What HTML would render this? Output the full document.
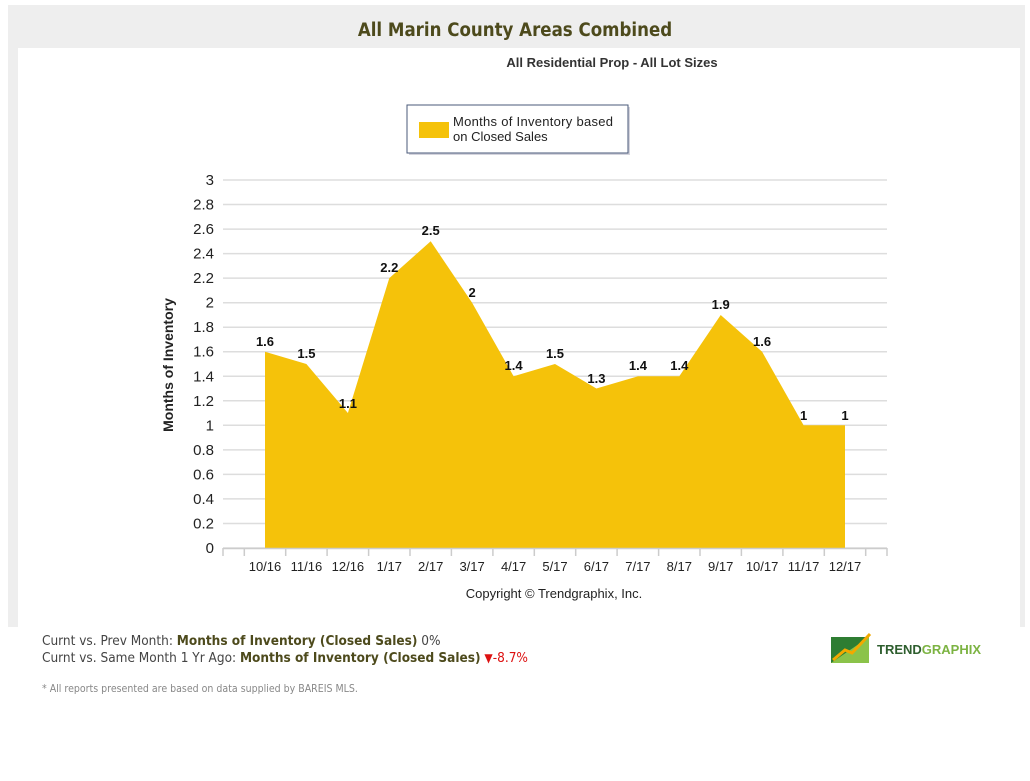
<!DOCTYPE html>
<html><head><style>
body{margin:0;width:1030px;height:781px;background:#fff;font-family:"Liberation Sans",sans-serif;position:relative;overflow:hidden}
.hdr{position:absolute;left:8px;top:5px;width:1017px;height:622px;background:#eeeeee}
.pan{position:absolute;left:18px;top:48px;width:1002px;height:579px;background:#fff}
.t{position:absolute;left:0;width:1030px;text-align:center;top:20px;font-size:18.5px;font-weight:bold;color:#4d4a1c;font-family:"DejaVu Sans Condensed","Liberation Sans",sans-serif}
.info{position:absolute;left:42px;font-size:13.5px;color:#444;font-family:"DejaVu Sans Condensed","Liberation Sans",sans-serif;white-space:nowrap}
.info b{color:#4d4a1c}
</style></head><body>
<div class="hdr"></div><div class="pan"></div>
<div class="t">All Marin County Areas Combined</div>
<svg style="position:absolute;left:0;top:0" width="1030" height="781" font-family="Liberation Sans, sans-serif">
<text x="612" y="67" text-anchor="middle" font-size="13" font-weight="bold" fill="#333">All Residential Prop - All Lot Sizes</text>
<rect x="409" y="107" width="221" height="48" fill="#aab" opacity="0.5"/>
<rect x="407" y="105" width="221" height="48" fill="#fff" stroke="#4a5a7a" stroke-width="1"/>
<rect x="419" y="122" width="30" height="16" fill="#f5c20a"/>
<text x="453" y="126" font-size="13" fill="#222" textLength="160">Months of Inventory based</text>
<text x="453" y="141" font-size="13" fill="#222">on Closed Sales</text>
<g stroke="#ddd" stroke-width="1.5">
<line x1="223" x2="887" y1="180" y2="180"/><line x1="223" x2="887" y1="204.5" y2="204.5"/><line x1="223" x2="887" y1="229.1" y2="229.1"/><line x1="223" x2="887" y1="253.6" y2="253.6"/><line x1="223" x2="887" y1="278.1" y2="278.1"/><line x1="223" x2="887" y1="302.7" y2="302.7"/><line x1="223" x2="887" y1="327.2" y2="327.2"/><line x1="223" x2="887" y1="351.7" y2="351.7"/><line x1="223" x2="887" y1="376.3" y2="376.3"/><line x1="223" x2="887" y1="400.8" y2="400.8"/><line x1="223" x2="887" y1="425.3" y2="425.3"/><line x1="223" x2="887" y1="449.9" y2="449.9"/><line x1="223" x2="887" y1="474.4" y2="474.4"/><line x1="223" x2="887" y1="498.9" y2="498.9"/><line x1="223" x2="887" y1="523.5" y2="523.5"/><line x1="223" x2="887" y1="548" y2="548"/>
</g>
<g font-size="15" fill="#222" text-anchor="end">
<text x="214" y="185">3</text><text x="214" y="209.5">2.8</text><text x="214" y="234">2.6</text><text x="214" y="258.6">2.4</text><text x="214" y="283">2.2</text><text x="214" y="307.7">2</text><text x="214" y="332">1.8</text><text x="214" y="356.7">1.6</text><text x="214" y="381.3">1.4</text><text x="214" y="405.8">1.2</text><text x="214" y="430.3">1</text><text x="214" y="454.9">0.8</text><text x="214" y="479.4">0.6</text><text x="214" y="503.9">0.4</text><text x="214" y="528.5">0.2</text><text x="214" y="553">0</text>
</g>
<text transform="translate(173,365) rotate(-90)" text-anchor="middle" font-size="14" font-weight="bold" fill="#222">Months of Inventory</text>
<polygon fill="#f5c20a" points="265,548 265,351.7 306.4,364 347.9,413 389.3,278.1 430.7,241.3 472.1,302.7 513.6,376.3 555,364 596.4,388.5 637.9,376.3 679.3,376.3 720.7,315 762.1,351.7 803.6,425.3 845,425.3 845,548"/>
<line x1="223" x2="887" y1="548.5" y2="548.5" stroke="#ccc" stroke-width="1.5"/>
<g stroke="#ccc" stroke-width="1.5">
<line x1="223" x2="223" y1="548" y2="556"/><line x1="244.3" x2="244.3" y1="548" y2="556"/><line x1="285.7" x2="285.7" y1="548" y2="556"/><line x1="327.1" x2="327.1" y1="548" y2="556"/><line x1="368.6" x2="368.6" y1="548" y2="556"/><line x1="410" x2="410" y1="548" y2="556"/><line x1="451.4" x2="451.4" y1="548" y2="556"/><line x1="492.9" x2="492.9" y1="548" y2="556"/><line x1="534.3" x2="534.3" y1="548" y2="556"/><line x1="575.7" x2="575.7" y1="548" y2="556"/><line x1="617.1" x2="617.1" y1="548" y2="556"/><line x1="658.6" x2="658.6" y1="548" y2="556"/><line x1="700" x2="700" y1="548" y2="556"/><line x1="741.4" x2="741.4" y1="548" y2="556"/><line x1="782.9" x2="782.9" y1="548" y2="556"/><line x1="824.3" x2="824.3" y1="548" y2="556"/><line x1="865.7" x2="865.7" y1="548" y2="556"/><line x1="887" x2="887" y1="548" y2="556"/>
</g>
<g font-size="13" fill="#222" text-anchor="middle">
<text x="265" y="571">10/16</text><text x="306.4" y="571">11/16</text><text x="347.9" y="571">12/16</text><text x="389.3" y="571">1/17</text><text x="430.7" y="571">2/17</text><text x="472.1" y="571">3/17</text><text x="513.6" y="571">4/17</text><text x="555" y="571">5/17</text><text x="596.4" y="571">6/17</text><text x="637.9" y="571">7/17</text><text x="679.3" y="571">8/17</text><text x="720.7" y="571">9/17</text><text x="762.1" y="571">10/17</text><text x="803.6" y="571">11/17</text><text x="845" y="571">12/17</text>
</g>
<g font-size="13" font-weight="bold" fill="#111" text-anchor="middle">
<text x="265" y="346">1.6</text><text x="306.4" y="358">1.5</text><text x="347.9" y="408">1.1</text><text x="389.3" y="272">2.2</text><text x="430.7" y="235">2.5</text><text x="472.1" y="297">2</text><text x="513.6" y="370">1.4</text><text x="555" y="358">1.5</text><text x="596.4" y="383">1.3</text><text x="637.9" y="370">1.4</text><text x="679.3" y="370">1.4</text><text x="720.7" y="309">1.9</text><text x="762.1" y="346">1.6</text><text x="803.6" y="420">1</text><text x="845" y="420">1</text>
</g>
<text x="554" y="598" text-anchor="middle" font-size="13" fill="#222">Copyright © Trendgraphix, Inc.</text>
<rect x="831" y="637" width="38" height="26" fill="#2e7d32"/>
<polygon points="831,663 869,637 869,663" fill="#8bc34a"/>
<polyline points="833,660 845,650 852,653 870,634" stroke="#f2a900" stroke-width="3" fill="none"/>
<text x="877" y="654" font-size="13" font-weight="bold" fill="#2e5e2e">TREND<tspan fill="#7cb342">GRAPHIX</tspan></text>
</svg>
<div class="info" style="top:633px">Curnt vs. Prev Month: <b>Months of Inventory (Closed Sales)</b> 0%</div>
<div class="info" style="top:650px">Curnt vs. Same Month 1 Yr Ago: <b>Months of Inventory (Closed Sales)</b> <span style="color:#d11;font-size:12px">▼</span><span style="color:#d11">-8.7%</span></div>
<div class="info" style="top:683px;font-size:10.5px;color:#888">* All reports presented are based on data supplied by BAREIS MLS.</div>
</body></html>
